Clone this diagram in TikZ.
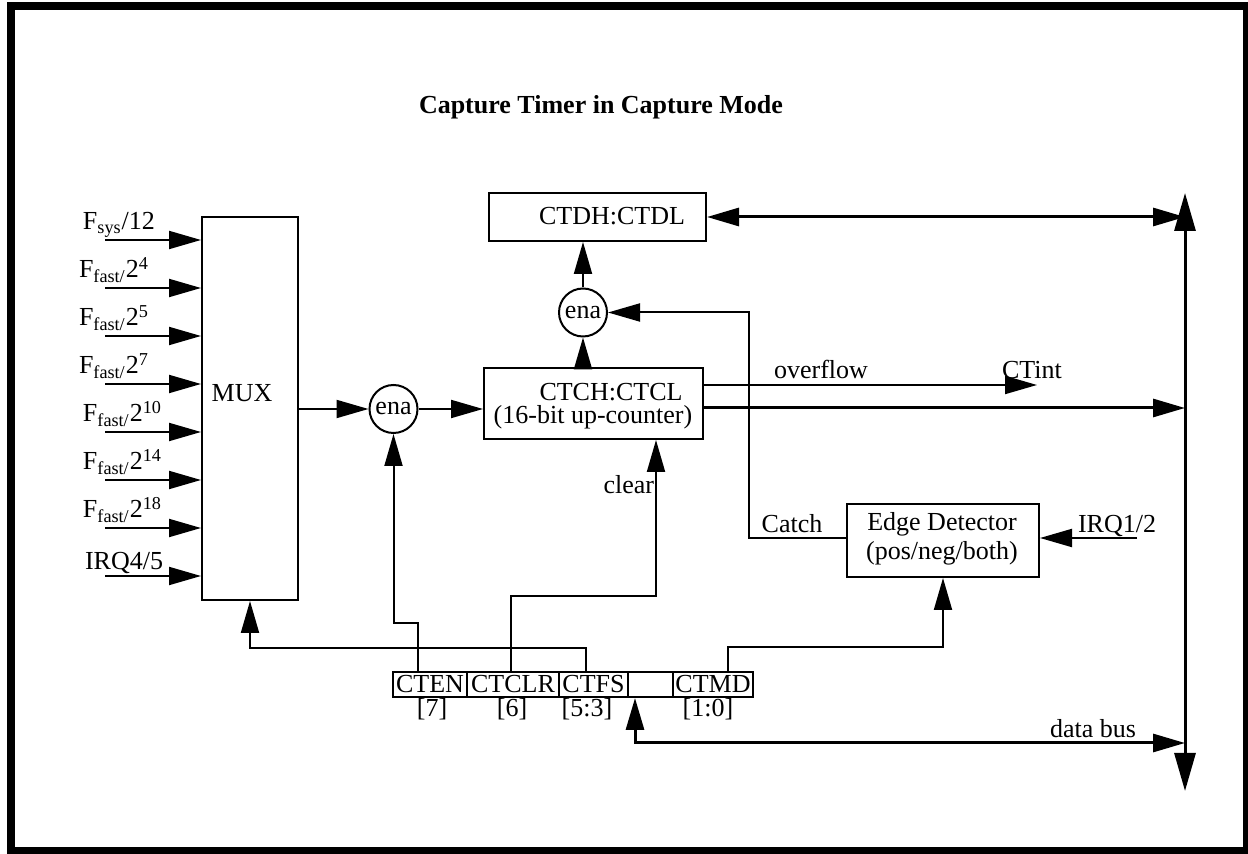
\documentclass[tikz,border=0pt]{standalone}
\usepackage{fontspec}
\setmainfont{Liberation Serif}
\usetikzlibrary{arrows.meta}
\begin{document}
\begin{tikzpicture}[x=0.5pt,y=-0.5pt,
  font=\fontsize{13}{15}\selectfont,
  line width=1pt,
  box/.style={draw,line width=1pt,inner sep=0pt},
  cell/.style={draw,line width=1pt,inner sep=0pt,minimum height=12.5pt},
  enac/.style={circle,draw,line width=1pt,inner sep=0pt,minimum size=24pt},
  lbl/.style={inner sep=0pt,anchor=base},
  lblw/.style={inner sep=0pt,anchor=base west},
  arr/.style={-{Triangle[length=16pt,width=9pt]}},
  dblarr/.style={{Triangle[length=16pt,width=9pt]}-{Triangle[length=16pt,width=9pt]}},
  busarr/.style={{Triangle[length=19pt,width=10.5pt]}-{Triangle[length=19pt,width=10.5pt]}},
  thickline/.style={line width=1.5pt}]
\useasboundingbox (0,0) rectangle (1248,854);
\draw[line width=4pt] (11,6) rectangle (1247,851);

% title
\node[lbl,font=\fontsize{13}{15}\selectfont\bfseries] (title) at (601,114) {Capture Timer in Capture Mode};

% boxes
\node[box,minimum width=48pt,minimum height=191.5pt] (mux) at (250,408.5) {};
\node[lbl] (muxt) at (242,402) {MUX};
\node[box,minimum width=109.5pt,minimum height=35.5pt] (ctch) at (593.5,403.5) {};
\node[lbl] (ctcht1) at (611,401) {CTCH:CTCL};
\node[lbl] (ctcht2) at (593,424) {(16-bit up-counter)};
\node[box,minimum width=108.5pt,minimum height=24pt] (ctdh) at (597.5,217) {};
\node[lbl] (ctdht) at (612,225) {CTDH:CTDL};
\node[box,minimum width=96pt,minimum height=36.5pt] (edge) at (943,540.5) {};
\node[lbl] (edget1) at (942,531) {Edge Detector};
\node[lbl] (edget2) at (942,560) {(pos/neg/both)};
\node[enac] (ena1) at (393.5,409) {ena};
\node[enac] (ena2) at (583,312.5) {ena};

% register
\node[cell,minimum width=37pt] (cten) at (430,684.5) {CTEN};
\node[cell,minimum width=46pt] (ctclr) at (513,684.5) {CTCLR};
\node[cell,minimum width=34.5pt] (ctfs) at (593.5,684.5) {CTFS};
\node[cell,minimum width=22.5pt] (blank) at (650.5,684.5) {};
\node[cell,minimum width=40pt] (ctmd) at (713,684.5) {CTMD};
\node[lbl] (b7) at (432,717) {[7]};
\node[lbl] (b6) at (512,717) {[6]};
\node[lbl] (b53) at (587,717) {[5:3]};
\node[lbl] (b10) at (708,717) {[1:0]};

% inputs
\coordinate (i1) at (105,240);
\coordinate (i2) at (105,288);
\coordinate (i3) at (105,336);
\coordinate (i4) at (105,384);
\coordinate (i5) at (105,432);
\coordinate (i6) at (105,480);
\coordinate (i7) at (105,528);
\coordinate (i8) at (105,576);
\foreach \c in {i1,i2,i3,i4,i5,i6,i7,i8}
  \draw[arr] (\c) -- (\c -| mux.west);
\node[lblw] (l1) at (82,230) {F\textsubscript{sys}/12};
\node[lblw] (l2) at (78,278) {F\textsubscript{fast/}2\textsuperscript{4}};
\node[lblw] (l3) at (78,326) {F\textsubscript{fast/}2\textsuperscript{5}};
\node[lblw] (l4) at (78,374) {F\textsubscript{fast/}2\textsuperscript{7}};
\node[lblw] (l5) at (82,422) {F\textsubscript{fast/}2\textsuperscript{10}};
\node[lblw] (l6) at (82,470) {F\textsubscript{fast/}2\textsuperscript{14}};
\node[lblw] (l7) at (82,518) {F\textsubscript{fast/}2\textsuperscript{18}};
\node[lblw] (l8) at (84,570) {IRQ4/5};

% main path
\draw[arr] (mux.east |- ena1.west) -- (ena1.west);
\draw[arr] (ena1.east) -- (ena1.east -| ctch.west);
\draw[arr] (ena2 |- ctch.north) -- (ena2.south);
\draw[arr] (ena2.north) -- (ena2 |- ctdh.south);

% register control lines
\draw[arr] ([xshift=-6pt]cten.north) -- ++(0,-48) -| (ena1.south);
\draw[arr] ([xshift=-3.75pt]ctfs.north) -- ++(0,-23) -| (mux.south);
\coordinate (clr) at (656,596);
\draw[arr] ([xshift=-1pt]ctclr.north) |- (clr) -- (clr |- ctch.south);
\node[lbl,anchor=base east] (clrt) at (655,494) {clear};
\draw[arr] ([xshift=7.5pt]ctmd.north) -- ++(0,-24) -| (edge.south);

% capture
\draw[arr] ([yshift=1.25pt]edge.west) -- ++(-97,0) |- (ena2.east);
\node[lbl] (catch) at (792,533) {Catch};
\coordinate (irq) at (1137,538);
\draw[arr] (irq) -- (irq -| edge.east);
\node[lbl] (irqt) at (1117,533) {IRQ1/2};

% overflow
\coordinate (ctint) at (1037,385);
\draw[arr] (ctint -| ctch.east) -- (ctint);
\node[lbl] (ovf) at (821,379) {overflow};
\node[lbl] (ctintt) at (1032,379) {CTint};

% bus
\coordinate (bt) at (1185,193);
\coordinate (bb) at (1185,791);
\draw[busarr,thickline] (bt) -- (bb);
\coordinate (cq) at ([yshift=-2.25pt]ctch.east);
\draw[arr,thickline] (cq) -- (cq -| bt);
\draw[dblarr,thickline] (ctdh.east) -- (ctdh.east -| bt);
\coordinate (db) at (1185,743);
\draw[dblarr,thickline] ([xshift=-7.75pt]blank.south) |- (db);
\node[lbl] (dbt) at (1093,738) {data bus};
\end{tikzpicture}
\end{document}
